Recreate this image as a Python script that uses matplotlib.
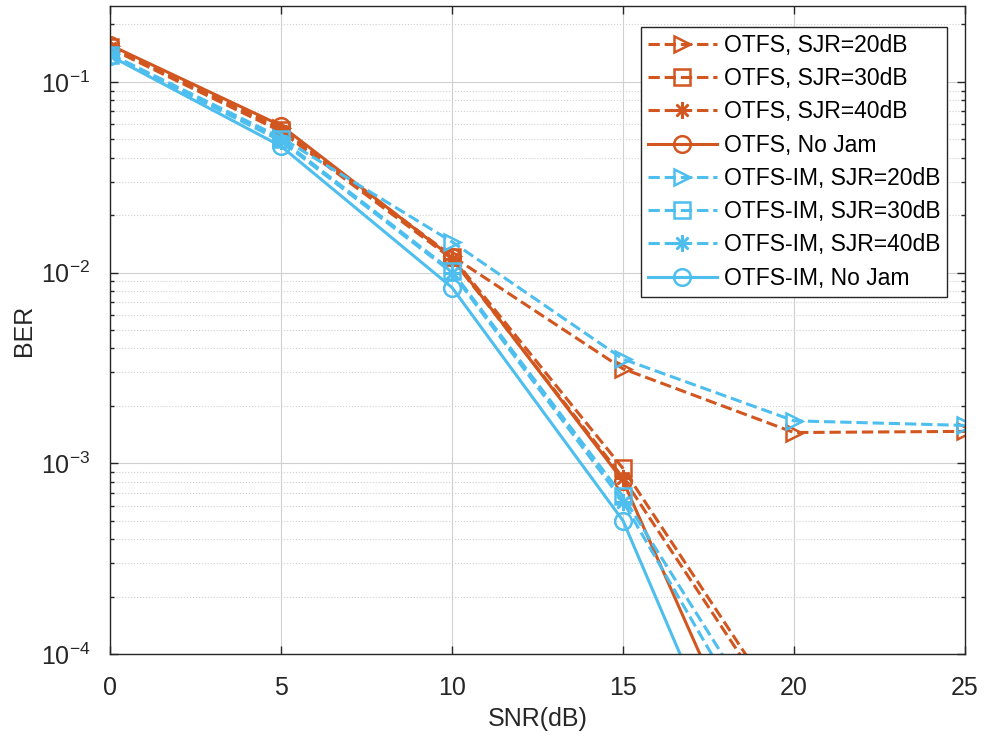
import numpy as np
import matplotlib.pyplot as plt

plt.rcParams['font.family'] = ['Liberation Sans', 'DejaVu Sans']

snr = [0, 5, 10, 15, 20, 25]

# BER (nan = below the plotted range)
otfs_sjr20 = [0.154, 0.057, 0.0122, 0.00313, 0.00145, 0.00147]
otfs_sjr30 = [0.152, 0.056, 0.0121, 0.00094, 4.1e-5, np.nan]
otfs_sjr40 = [0.150, 0.055, 0.0118, 0.00084, 3.7e-5, np.nan]
otfs_nojam = [0.156, 0.059, 0.0120, 0.00081, 7.7e-6, np.nan]
im_sjr20 = [0.140, 0.051, 0.0145, 0.00352, 0.00167, 0.00158]
im_sjr30 = [0.139, 0.050, 0.0102, 0.00067, 2.5e-5, np.nan]
im_sjr40 = [0.138, 0.049, 0.0100, 0.00063, 1.8e-5, np.nan]
im_nojam = [0.137, 0.046, 0.00835, 0.00050, 4e-6, np.nan]

orange = '#D2561F'
blue = '#4DBEEE'
asterisk = (8, 2, 0)

fig = plt.figure(figsize=(9.87, 7.42), dpi=100)
ax = fig.add_axes([0.1115, 0.1186, 0.8662, 0.8733])

kw = dict(linewidth=2.2, markersize=12, markeredgewidth=1.8)
ax.semilogy(snr, otfs_sjr20, '--', color=orange, marker='>', mfc='none', label='OTFS, SJR=20dB', **kw)
ax.semilogy(snr, otfs_sjr30, '--', color=orange, marker='s', mfc='none', label='OTFS, SJR=30dB', **kw)
ax.semilogy(snr, otfs_sjr40, '--', color=orange, marker=asterisk, label='OTFS, SJR=40dB', **kw)
ax.semilogy(snr, otfs_nojam, '-', color=orange, marker='o', mfc='none', label='OTFS, No Jam', **kw)
ax.semilogy(snr, im_sjr20, '--', color=blue, marker='>', mfc='none', label='OTFS-IM, SJR=20dB', **kw)
ax.semilogy(snr, im_sjr30, '--', color=blue, marker='s', mfc='none', label='OTFS-IM, SJR=30dB', **kw)
ax.semilogy(snr, im_sjr40, '--', color=blue, marker=asterisk, label='OTFS-IM, SJR=40dB', **kw)
ax.semilogy(snr, im_nojam, '-', color=blue, marker='o', mfc='none', label='OTFS-IM, No Jam', **kw)

ax.set_xlim(0, 25)
ax.set_ylim(1e-4, 0.25)
ax.set_xticks([0, 5, 10, 15, 20, 25])

ax.grid(True, which='major', color='#d0d0d0', linewidth=0.8, linestyle='-')
ax.grid(True, which='minor', axis='y', color='#d0d0d0', linewidth=0.8, linestyle=':')
ax.tick_params(which='both', direction='in', top=True, right=True, labelsize=18, colors='#262626')
ax.tick_params(axis='x', which='major', pad=16)
ax.tick_params(axis='y', which='major', pad=14)
ax.tick_params(which='major', length=6, width=1)
ax.tick_params(which='minor', length=3, width=1)
for s in ax.spines.values():
    s.set_color('#262626')
    s.set_linewidth(1)

ax.set_xlabel('SNR(dB)', fontsize=18, color='#262626', labelpad=5)
ax.set_ylabel('BER', fontsize=18, color='#262626', labelpad=4)

leg = ax.legend(loc='upper right', bbox_to_anchor=(0.979, 0.968), fontsize=16.5,
                handlelength=3.0, handletextpad=0.3, labelspacing=0.45,
                borderpad=0.3, borderaxespad=0, fancybox=False, framealpha=1,
                edgecolor='#262626')
leg.get_frame().set_linewidth(1)

fig.savefig('out.png', dpi=100)
